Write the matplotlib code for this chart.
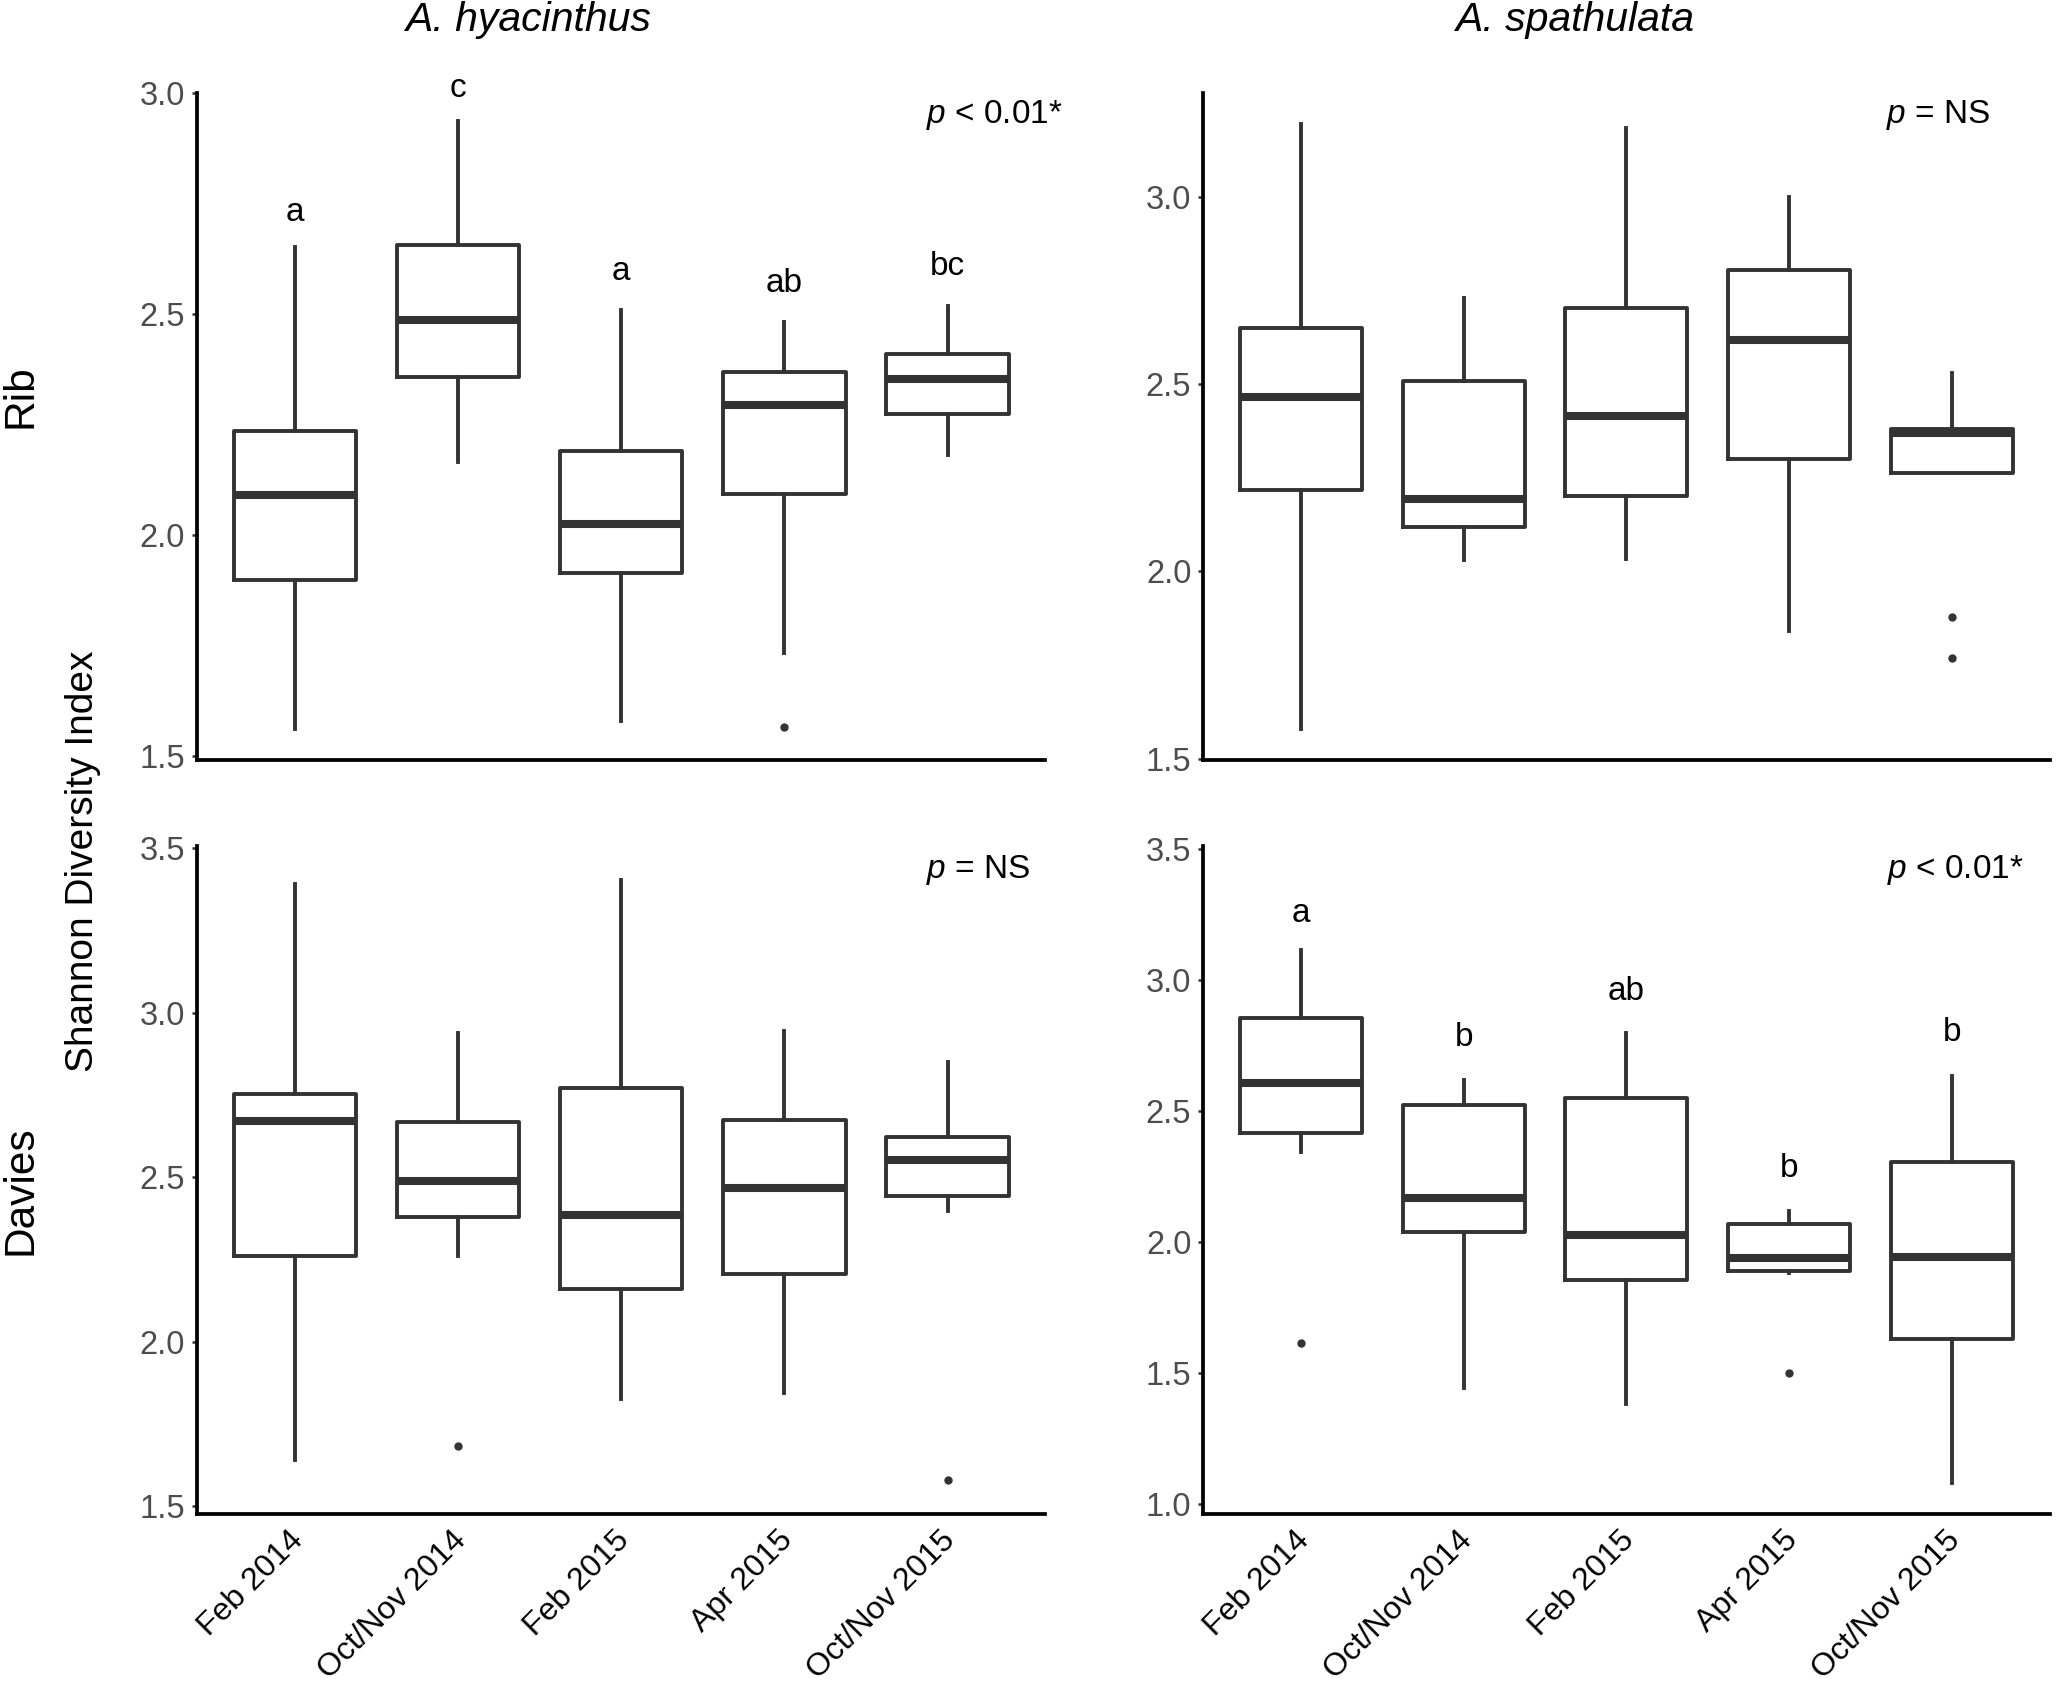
"""Shannon diversity boxplots for two Acropora species at two sites."""

import matplotlib
matplotlib.use("Agg")
import matplotlib.pyplot as plt
from matplotlib.transforms import ScaledTranslation

plt.rcParams['font.family'] = ['Liberation Sans', 'DejaVu Sans']
plt.rcParams['mathtext.fontset'] = 'custom'
plt.rcParams['mathtext.rm'] = 'Liberation Sans'
plt.rcParams['mathtext.it'] = 'Liberation Sans:italic'

periods = ['Feb 2014', 'Oct/Nov 2014', 'Feb 2015', 'Apr 2015', 'Oct/Nov 2015']

# A. hyacinthus, Rib
hya_rib_low = [1.560, 2.164, 1.578, 1.732, 2.180]
hya_rib_q1 = [1.899, 2.357, 1.913, 2.092, 2.273]
hya_rib_med = [2.090, 2.487, 2.024, 2.293, 2.352]
hya_rib_q3 = [2.235, 2.656, 2.190, 2.369, 2.408]
hya_rib_high = [2.650, 2.936, 2.508, 2.481, 2.518]
hya_rib_out = [[], [], [], [1.565], []]
hya_rib_letters = ['a', 'c', 'a', 'ab', 'bc']
hya_rib_letter_y = [2.73, 3.01, 2.595, 2.568, 2.607]

# A. spathulata, Rib
spa_rib_low = [1.579, 2.030, 2.033, 1.840, 2.264]
spa_rib_q1 = [2.218, 2.119, 2.203, 2.302, 2.264]
spa_rib_med = [2.466, 2.194, 2.415, 2.618, 2.369]
spa_rib_q3 = [2.652, 2.509, 2.704, 2.806, 2.380]
spa_rib_high = [3.196, 2.732, 3.186, 3.000, 2.532]
spa_rib_out = [[], [], [], [], [1.878, 1.768]]

# A. hyacinthus, Davies
hya_dav_low = [1.640, 2.260, 1.827, 1.844, 2.396]
hya_dav_q1 = [2.260, 2.379, 2.160, 2.206, 2.443]
hya_dav_med = [2.670, 2.490, 2.384, 2.468, 2.552]
hya_dav_q3 = [2.754, 2.667, 2.772, 2.674, 2.621]
hya_dav_high = [3.390, 2.938, 3.404, 2.943, 2.850]
hya_dav_out = [[], [1.683], [], [], [1.579]]

# A. spathulata, Davies
spa_dav_low = [2.342, 1.443, 1.382, 1.882, 1.080]
spa_dav_q1 = [2.414, 2.037, 1.855, 1.890, 1.629]
spa_dav_med = [2.605, 2.167, 2.024, 1.939, 1.943]
spa_dav_q3 = [2.853, 2.522, 2.550, 2.068, 2.305]
spa_dav_high = [3.113, 2.616, 2.798, 2.118, 2.632]
spa_dav_out = [[1.612], [], [], [1.498], []]
spa_dav_letters = ['a', 'b', 'ab', 'b', 'b']
spa_dav_letter_y = [3.255, 2.78, 2.955, 2.28, 2.80]

DARK = '#333333'


def draw_panel(ax, low, q1, med, q3, high, out, ylim, yticks, p_text, p_xy,
               letters=None, letter_y=None, xlabels=False):
    stats = []
    for i in range(len(periods)):
        stats.append(dict(whislo=low[i], q1=q1[i], med=med[i], q3=q3[i],
                          whishi=high[i], fliers=out[i]))
    ax.bxp(stats, positions=range(1, 6), widths=0.75, showcaps=False,
           boxprops=dict(color=DARK, linewidth=2.8),
           whiskerprops=dict(color=DARK, linewidth=2.8),
           medianprops=dict(color=DARK, linewidth=5.8, solid_capstyle='butt'),
           flierprops=dict(marker='o', markersize=5, markerfacecolor=DARK,
                           markeredgecolor=DARK))
    ax.set_xlim(0.4, 5.6)
    ax.set_ylim(*ylim)
    ax.set_yticks(yticks)
    ax.set_yticklabels(['%.1f' % t for t in yticks])
    for side in ['top', 'right']:
        ax.spines[side].set_visible(False)
    for side in ['left', 'bottom']:
        ax.spines[side].set_linewidth(2.7)
        ax.spines[side].set_color('black')
    ax.tick_params(axis='y', length=3.6, width=1.8, color=DARK, pad=5,
                   labelsize=23.5, labelcolor='#4d4d4d')
    if xlabels:
        ax.set_xticks(range(1, 6))
        ax.set_xticklabels(periods, rotation=45, ha='right', va='top',
                           rotation_mode='anchor')
        ax.tick_params(axis='x', length=0, pad=8, labelsize=23,
                       labelcolor='black')
        shift = ScaledTranslation(-0.07, 0, ax.figure.dpi_scale_trans)
        for lab in ax.get_xticklabels():
            lab.set_transform(lab.get_transform() + shift)
    else:
        ax.set_xticks([])
    if letters:
        for i, (lab, y) in enumerate(zip(letters, letter_y)):
            ax.text(i + 1, y, lab, ha='center', va='center', fontsize=24,
                    clip_on=False)
    ax.text(p_xy[0], p_xy[1], p_text, transform=ax.transAxes, ha='right',
            va='center', fontsize=24)


fig = plt.figure(figsize=(20.64, 16.86), dpi=100)
ax1 = fig.add_axes([0.0955, 0.549, 0.411, 0.396])
ax2 = fig.add_axes([0.583, 0.549, 0.410, 0.396])
ax3 = fig.add_axes([0.0955, 0.102, 0.411, 0.396])
ax4 = fig.add_axes([0.583, 0.102, 0.410, 0.396])

draw_panel(ax1, hya_rib_low, hya_rib_q1, hya_rib_med, hya_rib_q3, hya_rib_high,
           hya_rib_out, (1.49, 3.0), [1.5, 2.0, 2.5, 3.0],
           r'$\mathit{p}$ < 0.01*', (1.021, 0.966),
           hya_rib_letters, hya_rib_letter_y)
draw_panel(ax2, spa_rib_low, spa_rib_q1, spa_rib_med, spa_rib_q3, spa_rib_high,
           spa_rib_out, (1.495, 3.28), [1.5, 2.0, 2.5, 3.0],
           r'$\mathit{p}$ = NS', (0.93, 0.966))
draw_panel(ax3, hya_dav_low, hya_dav_q1, hya_dav_med, hya_dav_q3, hya_dav_high,
           hya_dav_out, (1.477, 3.505), [1.5, 2.0, 2.5, 3.0, 3.5],
           r'$\mathit{p}$ = NS', (0.982, 0.964), xlabels=True)
draw_panel(ax4, spa_dav_low, spa_dav_q1, spa_dav_med, spa_dav_q3, spa_dav_high,
           spa_dav_out, (0.96, 3.51), [1.0, 1.5, 2.0, 2.5, 3.0, 3.5],
           r'$\mathit{p}$ < 0.01*', (0.97, 0.964),
           spa_dav_letters, spa_dav_letter_y, xlabels=True)

fig.text(0.256, 0.988, 'A. hyacinthus', style='italic', fontsize=29.5,
         ha='center', va='center')
fig.text(0.763, 0.988, 'A. spathulata', style='italic', fontsize=29.5,
         ha='center', va='center')
fig.text(0.010, 0.765, 'Rib', rotation=90, fontsize=30.5, ha='center',
         va='center')
fig.text(0.010, 0.294, 'Davies', rotation=90, fontsize=30.5, ha='center',
         va='center')
fig.text(0.040, 0.489, 'Shannon Diversity Index', rotation=90, fontsize=28,
         ha='center', va='center')

fig.savefig('out.png', dpi=100)
